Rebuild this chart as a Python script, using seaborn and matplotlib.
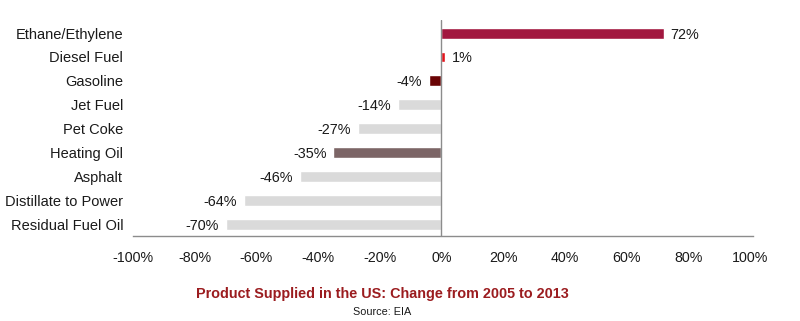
import matplotlib
matplotlib.use("Agg")
import matplotlib.pyplot as plt
import seaborn as sns
import pandas as pd
from matplotlib.ticker import FuncFormatter

products = ["Ethane/Ethylene", "Diesel Fuel", "Gasoline", "Jet Fuel", "Pet Coke",
            "Heating Oil", "Asphalt", "Distillate to Power", "Residual Fuel Oil"]
change_pct = [72, 1, -4, -14, -27, -35, -46, -64, -70]
bar_colors = ["#A2173F", "#E3141C", "#6A0405", "#DADADA", "#DADADA",
              "#7C6566", "#DADADA", "#DADADA", "#DADADA"]
x_ticks = [-100, -80, -60, -40, -20, 0, 20, 40, 60, 80, 100]

sns.set_theme(style="white")
plt.rcParams["font.family"] = ["Liberation Sans", "DejaVu Sans"]

df = pd.DataFrame({"product": products, "change": change_pct})

fig = plt.figure(figsize=(8, 3.21), dpi=100)
ax = fig.add_axes([133 / 800, 1 - 236 / 321, 620 / 800, 216 / 321])

sns.barplot(data=df, x="change", y="product", hue="product",
            palette=dict(zip(products, bar_colors)), order=products,
            orient="h", width=0.46, legend=False, saturation=1, ax=ax)

for i, v in enumerate(change_pct):
    if v >= 0:
        ax.text(v + 2.3, i, f"{v}%", va="center_baseline", ha="left",
                fontsize=10.4, color="#1a1a1a")
    else:
        ax.text(v - 2.3, i, f"{v}%", va="center_baseline", ha="right",
                fontsize=10.4, color="#1a1a1a")

ax.axvline(0, color="#8c8c8c", lw=1.0, zorder=3)
ax.set_xlim(-100, 101)
ax.set_ylim(8.5, -0.55)
ax.set_xticks(x_ticks)
ax.xaxis.set_major_formatter(FuncFormatter(lambda v, p: f"{int(v)}%"))
ax.tick_params(axis="x", length=0, pad=11, labelsize=10.3, labelcolor="#1a1a1a")
ax.tick_params(axis="y", length=0, pad=7, labelsize=10.5, labelcolor="#1a1a1a")
ax.set_xlabel("")
ax.set_ylabel("")
for side in ["top", "right", "left"]:
    ax.spines[side].set_visible(False)
ax.spines["bottom"].set_color("#8c8c8c")
ax.spines["bottom"].set_linewidth(1.0)

fig.text(382 / 800, 1 - 294 / 321, "Product Supplied in the US: Change from 2005 to 2013",
         ha="center", va="center", fontsize=10.4, fontweight="bold", color="#9B1C1F")
fig.text(382 / 800, 1 - 312 / 321, "Source: EIA", ha="center", va="center",
         fontsize=7.8, color="#1a1a1a")

fig.savefig("out.png", dpi=100, facecolor="white")
